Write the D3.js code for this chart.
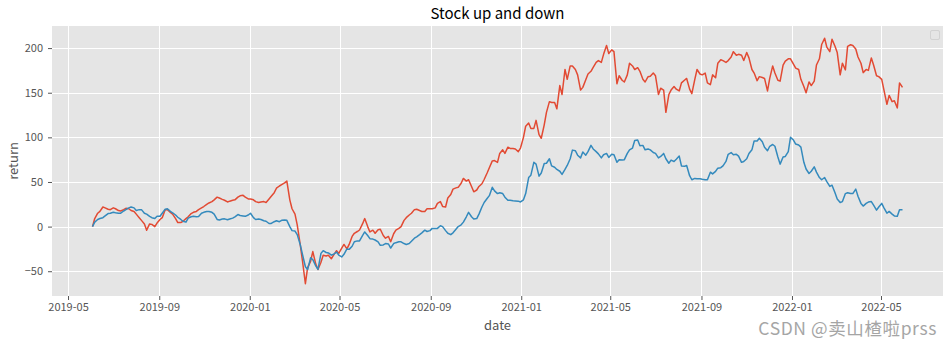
<!DOCTYPE html>
<html>
<head>
<meta charset="utf-8">
<script src="https://cdn.jsdelivr.net/npm/d3@7"></script>
<style>
  body { margin: 0; background: #ffffff; }
  svg { display: block; }
</style>
</head>
<body>
<svg id="chart" width="950" height="340"></svg>
<script>
// Trading dates (twice-weekly samples)
const dates = [
"2019-06-03","2019-06-06","2019-06-10","2019-06-13","2019-06-17","2019-06-20","2019-06-24","2019-06-27",
"2019-07-01","2019-07-04","2019-07-08","2019-07-11","2019-07-15","2019-07-18","2019-07-22","2019-07-25","2019-07-29","2019-08-01",
"2019-08-05","2019-08-08","2019-08-12","2019-08-15","2019-08-19","2019-08-22","2019-08-26","2019-08-29",
"2019-09-02","2019-09-05","2019-09-09","2019-09-12","2019-09-16","2019-09-19","2019-09-23","2019-09-26","2019-09-30","2019-10-03",
"2019-10-07","2019-10-10","2019-10-14","2019-10-17","2019-10-21","2019-10-24","2019-10-28","2019-10-31",
"2019-11-04","2019-11-07","2019-11-11","2019-11-14","2019-11-18","2019-11-21","2019-11-25","2019-11-28",
"2019-12-02","2019-12-05","2019-12-09","2019-12-12","2019-12-16","2019-12-19","2019-12-23","2019-12-26","2019-12-30","2020-01-02",
"2020-01-06","2020-01-09","2020-01-13","2020-01-16","2020-01-20","2020-01-23","2020-01-27","2020-01-30",
"2020-02-03","2020-02-06","2020-02-10","2020-02-13","2020-02-17","2020-02-20","2020-02-24","2020-02-27",
"2020-03-02","2020-03-05","2020-03-09","2020-03-12","2020-03-16","2020-03-19","2020-03-23","2020-03-26","2020-03-30","2020-04-02",
"2020-04-06","2020-04-09","2020-04-13","2020-04-16","2020-04-20","2020-04-23","2020-04-27","2020-04-30",
"2020-05-04","2020-05-07","2020-05-11","2020-05-14","2020-05-18","2020-05-21","2020-05-25","2020-05-28",
"2020-06-01","2020-06-04","2020-06-08","2020-06-11","2020-06-15","2020-06-18","2020-06-22","2020-06-25","2020-06-29","2020-07-02",
"2020-07-06","2020-07-09","2020-07-13","2020-07-16","2020-07-20","2020-07-23","2020-07-27","2020-07-30",
"2020-08-03","2020-08-06","2020-08-10","2020-08-13","2020-08-17","2020-08-20","2020-08-24","2020-08-27","2020-08-31","2020-09-03",
"2020-09-07","2020-09-10","2020-09-14","2020-09-17","2020-09-21","2020-09-24","2020-09-28","2020-10-01",
"2020-10-05","2020-10-08","2020-10-12","2020-10-15","2020-10-19","2020-10-22","2020-10-26","2020-10-29",
"2020-11-02","2020-11-05","2020-11-09","2020-11-12","2020-11-16","2020-11-19","2020-11-23","2020-11-26","2020-11-30","2020-12-03",
"2020-12-07","2020-12-10","2020-12-14","2020-12-17","2020-12-21","2020-12-24","2020-12-28","2020-12-31",
"2021-01-04","2021-01-07","2021-01-11","2021-01-14","2021-01-18","2021-01-21","2021-01-25","2021-01-28",
"2021-02-01","2021-02-04","2021-02-08","2021-02-11","2021-02-15","2021-02-18","2021-02-22","2021-02-25",
"2021-03-01","2021-03-04","2021-03-08","2021-03-11","2021-03-15","2021-03-18","2021-03-22","2021-03-25","2021-03-29","2021-04-01",
"2021-04-05","2021-04-08","2021-04-12","2021-04-15","2021-04-19","2021-04-22","2021-04-26","2021-04-29",
"2021-05-03","2021-05-06","2021-05-10","2021-05-13","2021-05-17","2021-05-20","2021-05-24","2021-05-27","2021-05-31","2021-06-03",
"2021-06-07","2021-06-10","2021-06-14","2021-06-17","2021-06-21","2021-06-24","2021-06-28","2021-07-01",
"2021-07-05","2021-07-08","2021-07-12","2021-07-15","2021-07-19","2021-07-22","2021-07-26","2021-07-29",
"2021-08-02","2021-08-05","2021-08-09","2021-08-12","2021-08-16","2021-08-19","2021-08-23","2021-08-26","2021-08-30","2021-09-02",
"2021-09-06","2021-09-09","2021-09-13","2021-09-16","2021-09-20","2021-09-23","2021-09-27","2021-09-30",
"2021-10-04","2021-10-07","2021-10-11","2021-10-14","2021-10-18","2021-10-21","2021-10-25","2021-10-28",
"2021-11-01","2021-11-04","2021-11-08","2021-11-11","2021-11-15","2021-11-18","2021-11-22","2021-11-25","2021-11-29","2021-12-02",
"2021-12-06","2021-12-09","2021-12-13","2021-12-16","2021-12-20","2021-12-23","2021-12-27","2021-12-30",
"2022-01-03","2022-01-06","2022-01-10","2022-01-13","2022-01-17","2022-01-20","2022-01-24","2022-01-27","2022-01-31","2022-02-03",
"2022-02-07","2022-02-10","2022-02-14","2022-02-17","2022-02-21","2022-02-24","2022-02-28","2022-03-03",
"2022-03-07","2022-03-10","2022-03-14","2022-03-17","2022-03-21","2022-03-24","2022-03-28","2022-03-31",
"2022-04-04","2022-04-07","2022-04-11","2022-04-14","2022-04-18","2022-04-21","2022-04-25","2022-04-28",
"2022-05-02","2022-05-05","2022-05-09","2022-05-12","2022-05-16","2022-05-19","2022-05-23","2022-05-26","2022-05-30"
];

// Cumulative return of the first stock (%)
const redReturns = [
0,9, 15,17, 22,21, 19.5,19, 21,20, 18,17.5, 19,20.5, 20,18, 17,14, 10,7,
3,-4, 3,2.5, 0,4, 8,10, 19,19, 16,14, 9,4.5, 4.5,6, 9,11, 14.6,16,
17,19, 21,22.5, 25,26.5, 28,30, 33,32, 30.5,29.5, 27.6,28.5, 29.5,30, 33,34.5, 35,33,
31,31, 30,28, 27,27.5, 28,27, 31,34, 38,43, 45.5,47, 49,51, 30,20, 14,2,
-20,-38, -64,-46, -39,-28, -42,-48, -40,-32, -33,-32, -36,-32, -27,-30, -24,-20, -25,-20,
-11,-7.5, -5.5,-3.8, 3,9, 0,-6, -4,-7.5, -3.5,-3, -10,-13, -11,-17, -8,-4, -2,0,
7,10, 13,15, 19,19.5, 18,17, 17,20, 20,20, 21,26, 28,22.6, 22,32, 36,42,
43.4,44, 48.5,54, 51,52.5, 45,39, 41,45, 48,52.8, 60,66, 73.6,74, 72,82, 86,82,
89,87.6, 87.6,87, 84,88, 100,112.5, 116,110, 110,119, 103,99, 114,128, 140,139, 139,132,
158,148, 176,165, 180,180, 176,170, 153,156, 164.5,171, 174,178.5, 184,186, 184,193, 203,194,
198,196, 160,169, 164,162, 170,183, 180,176, 178,174, 165,162, 168,168.5, 172,169, 148,155,
153,128, 148,153, 157,154, 152,161, 164,166, 154,149, 165,176, 171,170, 172,161, 159,170,
166.7,183, 187,186, 184,186, 190,196, 192,193, 192,186, 195,189, 176,172, 163.5,168, 167,166,
152,166, 180,172, 164,163, 181,185.5, 188,188, 182,177.5, 176,165, 157,150, 162,158, 163,181,
188,204, 211,201, 196,210, 202,195, 170,183, 175.6,202, 203.7,203, 199,190, 183,172.5, 176,175,
189,181, 169,168, 165,153, 137,147, 140,141, 133,161, 156
];

// Cumulative return of the second stock (%)
const blueReturns = [
0,5, 8,9, 10,12, 14.6,15, 16,15.5, 15,15, 17.5,19, 21,22, 21,18, 19,19,
15,14, 11.5,10, 9,11.5, 11.6,15, 19.5,20, 17,15.5, 13,10.5, 8,6, 5,9.5, 11,11.5,
11,11.4, 15,16, 17,17, 16,14, 8,7.5, 8.5,8.7, 7.6,8.5, 9.5,11, 13.5,12.5, 12,11.5,
13,15, 10,8, 8.5,8, 6.5,6, 3.5,3.5, 5.5,6.5, 5.5,7, 7.5,7, 0,-4.5, -5,-9,
-20,-31, -45,-48, -35,-37, -44,-48, -30,-27, -29,-29.5, -32,-31, -28.5,-32, -34,-31, -25,-25.5,
-22,-17, -16,-16, -10,-6, -10,-13.5, -14,-15, -17,-21, -20.5,-19, -19.5,-24, -19,-18, -17,-17,
-19,-20, -19,-16.5, -13,-11.5, -9,-7, -4,-5.5, -4.5,-2, -2,-2, 1,0, -4.5,-7.5, -9,-7,
-3,0, 2,5, 11,16, 11,8.5, 9,14, 22,27, 31.5,34.7, 44,40, 37,38, 37,33,
29.5,29.5, 29,28.8, 28.5,27.6, 30,37, 55,57.6, 72,70, 56.5,60, 70.8,71, 76,68, 66.5,64,
62,58.5, 64,68.5, 76,85.7, 85,80, 77,83.5, 80,84, 91,87, 84,81.5, 77,80.5, 82,77.5,
81,80.5, 72,75, 74.5,75, 82,86, 88,96.5, 97,90.5, 91,86, 87,86, 83,82, 77,78.6,
82,76, 71,74.5, 73,75.5, 79,68, 67.5,68.5, 57,52.5, 54,53.5, 53.5,53, 52.5,52.4, 61,59,
61.8,65.5, 66,68, 73,81, 83,80.5, 81,79, 72,73, 76,82, 86,96, 96,99, 95,89,
85,90, 92,90, 78,70, 78,78.6, 84,100, 97,92.5, 91.4,89, 72,64.5, 59.5,62, 67,61,
55,52.5, 55,50.5, 45,46.4, 38,31, 27,28, 37,38, 37,37, 42,34, 26,23, 26,27.5,
28,24, 18.4,22, 26,21, 15,17, 14,12, 11.5,19, 19
];

const xTickLabels = ["2019-05","2019-09","2020-01","2020-05","2020-09","2021-01","2021-05","2021-09","2022-01","2022-05"];
const yTickValues = [-50, 0, 50, 100, 150, 200];

const seriesColors = ["#E24A33", "#348ABD"];
const FONT = "'Noto Sans CJK SC', 'Noto Sans', sans-serif";

const svg = d3.select("#chart");
const box = { left: 52, right: 943, top: 26, bottom: 296 };

const parseDay = d3.timeParse("%Y-%m-%d");
const parseMonth = d3.timeParse("%Y-%m");
const X = dates.map(parseDay);

// Matplotlib-style 5% data margins on both axes
const [xMin, xMax] = d3.extent(X);
const padX = (xMax - xMin) * 0.05;
const x = d3.scaleTime()
  .domain([new Date(+xMin - padX), new Date(+xMax + padX)])
  .range([box.left, box.right]);

const [yMin, yMax] = d3.extent(redReturns.concat(blueReturns));
const padY = (yMax - yMin) * 0.05;
const y = d3.scaleLinear()
  .domain([yMin - padY, yMax + padY])
  .range([box.bottom, box.top]);

const xTicks = xTickLabels.map(parseMonth);

// Panel background
svg.append("rect")
  .attr("x", box.left).attr("y", box.top)
  .attr("width", box.right - box.left).attr("height", box.bottom - box.top)
  .attr("fill", "#E5E5E5");

// Grid
const grid = svg.append("g").attr("stroke", "#ffffff").attr("stroke-width", 1);
grid.selectAll("line.v").data(xTicks).join("line")
  .attr("x1", d => Math.round(x(d)) + 0.5).attr("x2", d => Math.round(x(d)) + 0.5)
  .attr("y1", box.top).attr("y2", box.bottom);
grid.selectAll("line.h").data(yTickValues).join("line")
  .attr("y1", d => Math.round(y(d)) + 0.5).attr("y2", d => Math.round(y(d)) + 0.5)
  .attr("x1", box.left).attr("x2", box.right);

// Series lines
const line = d3.line().x((d, i) => x(X[i])).y(d => y(d));
[redReturns, blueReturns].forEach((vals, k) => {
  svg.append("path")
    .datum(vals)
    .attr("d", line)
    .attr("fill", "none")
    .attr("stroke", seriesColors[k])
    .attr("stroke-width", 1.5)
    .attr("stroke-linejoin", "round");
});

// Axes
const xAxis = svg.append("g")
  .attr("transform", `translate(0,${box.bottom})`)
  .call(d3.axisBottom(x).tickValues(xTicks).tickFormat(d3.timeFormat("%Y-%m")).tickSize(4).tickPadding(3).tickSizeOuter(0));
const yAxis = svg.append("g")
  .attr("transform", `translate(${box.left},0)`)
  .call(d3.axisLeft(y).tickValues(yTickValues).tickSize(4).tickPadding(5).tickSizeOuter(0));
[xAxis, yAxis].forEach(g => {
  g.select(".domain").remove();
  g.selectAll(".tick line").attr("stroke", "#555555");
  g.selectAll(".tick text").attr("fill", "#555555").style("font-family", FONT).style("font-size", "11px");
});

// Title and axis labels
svg.append("text")
  .attr("x", (box.left + box.right) / 2).attr("y", 19)
  .attr("text-anchor", "middle")
  .style("font-family", FONT).style("font-size", "15px").attr("fill", "#000")
  .text("Stock up and down");

svg.append("text")
  .attr("x", (box.left + box.right) / 2).attr("y", 330)
  .attr("text-anchor", "middle")
  .style("font-family", FONT).style("font-size", "13px").attr("fill", "#555555")
  .text("date");

svg.append("text")
  .attr("transform", `translate(18,${(box.top + box.bottom) / 2}) rotate(-90)`)
  .attr("text-anchor", "middle")
  .style("font-family", FONT).style("font-size", "13px").attr("fill", "#555555")
  .text("return");

// Empty legend frame
svg.append("rect")
  .attr("x", 930.5).attr("y", 30.5).attr("width", 9).attr("height", 9).attr("rx", 1.5)
  .attr("fill", "#E5E5E5").attr("stroke", "#d2d2d2").attr("stroke-width", 1);

// Author watermark
svg.append("text")
  .attr("x", 937).attr("y", 334.8)
  .attr("text-anchor", "end")
  .style("font-family", FONT).style("font-size", "17.5px")
  .style("letter-spacing", "0.6px")
  .attr("fill", "#9c9c9c").attr("opacity", 0.9)
  .text("CSDN @卖山楂啦prss");
</script>
</body>
</html>
